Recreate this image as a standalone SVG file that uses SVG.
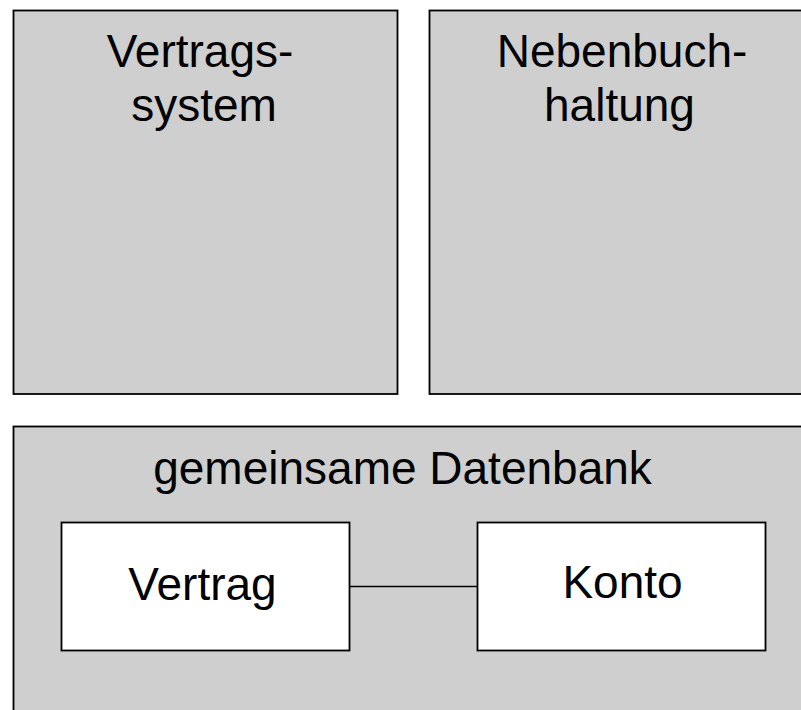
<svg xmlns="http://www.w3.org/2000/svg" width="801" height="710" viewBox="0 0 801 710">
<style>
.box{fill:#cfcfcf;stroke:#000;stroke-width:1.8}
.inner{fill:#fff;stroke:#000;stroke-width:1.8}
.lbl{font-family:"Liberation Sans",Arial,sans-serif;font-size:46px;fill:#000;text-anchor:middle}
.conn{stroke:#000;stroke-width:1.6;fill:none}
</style>
<rect x="0" y="0" width="801" height="710" fill="#fff"/>
<g id="vertragssystem">
<rect class="box" x="13.5" y="10.5" width="384" height="383.5"/>
<text class="lbl" x="200" y="66.5">Vertrags-</text>
<text class="lbl" x="204" y="121">system</text>
</g>
<g id="nebenbuchhaltung">
<rect class="box" x="429.5" y="10.5" width="390" height="383.5"/>
<text class="lbl" x="622" y="66.5">Nebenbuch-</text>
<text class="lbl" x="619.5" y="120.5">haltung</text>
</g>
<g id="datenbank">
<rect class="box" x="13.5" y="426.5" width="806" height="300"/>
<text class="lbl" x="402.5" y="483.5">gemeinsame Datenbank</text>
</g>
<g id="connectors">
<line class="conn" x1="349.5" y1="586.5" x2="477.5" y2="586.5"/>
</g>
<g id="vertrag">
<rect class="inner" x="61.5" y="522.5" width="288" height="128"/>
<text class="lbl" x="202.5" y="599.5">Vertrag</text>
</g>
<g id="konto">
<rect class="inner" x="477.5" y="522.5" width="288" height="128"/>
<text class="lbl" x="622.5" y="598">Konto</text>
</g>
</svg>
